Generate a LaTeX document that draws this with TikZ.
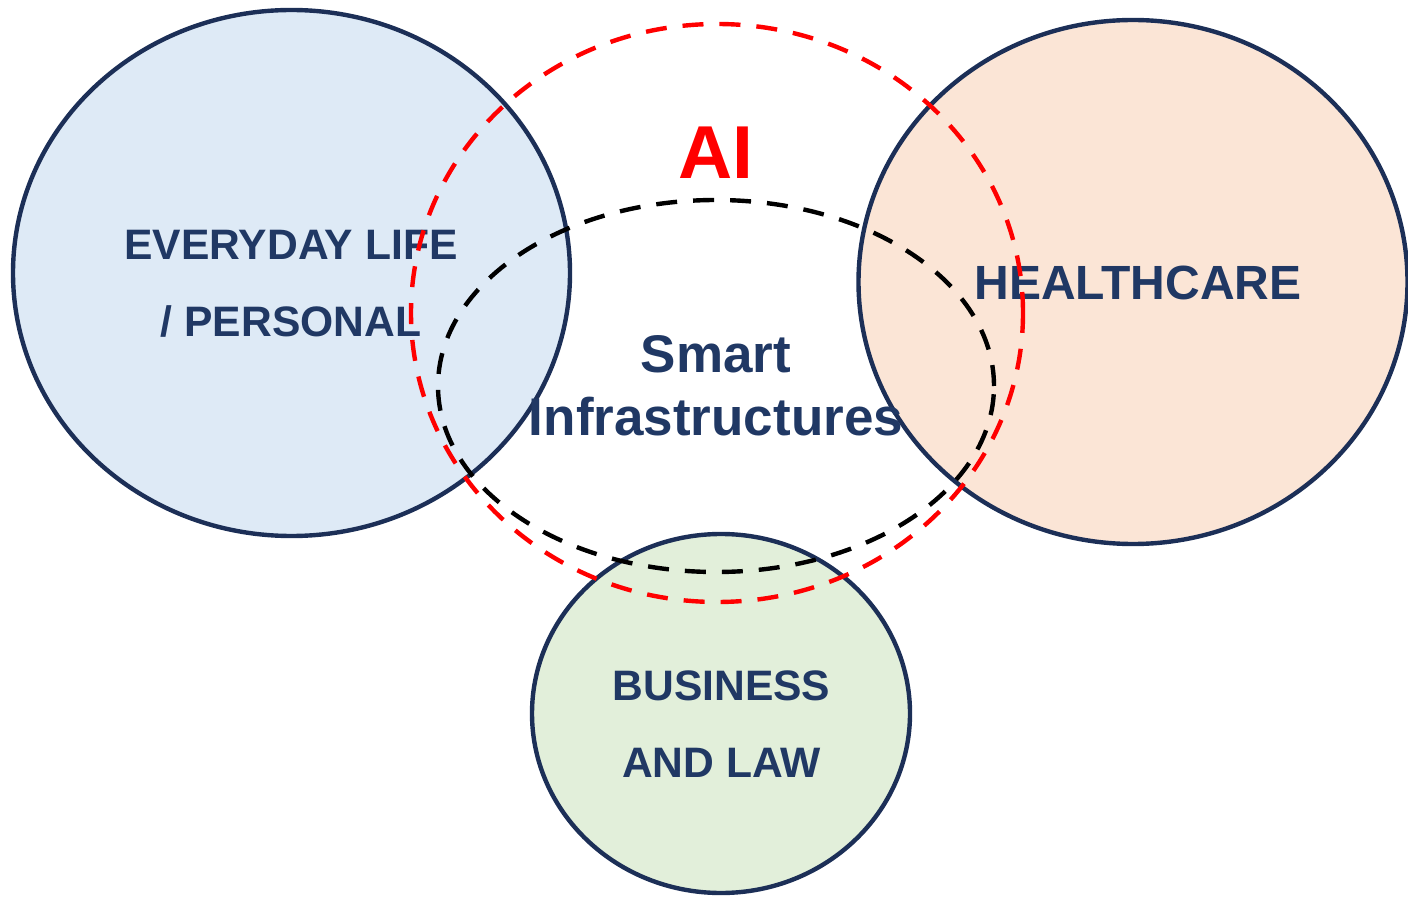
\documentclass[tikz,border=0pt]{standalone}
\usepackage{fontspec}
\setmainfont{Liberation Sans}
\usepackage{tikz}
\usetikzlibrary{shapes.geometric}

\definecolor{navy}{HTML}{1C2F57}
\definecolor{labelblue}{HTML}{203864}
\definecolor{lifefill}{HTML}{DEEAF6}
\definecolor{healthfill}{HTML}{FBE5D6}
\definecolor{lawfill}{HTML}{E2EFDA}

\begin{document}
\begin{tikzpicture}[x=0.5pt, y=-0.5pt,
  area/.style={ellipse, draw=navy, line width=2.2pt, inner sep=0pt},
  ring/.style={ellipse, line width=2.2pt, dash pattern=on 10.5pt off 8pt, inner sep=0pt},
  lbl/.style={text=labelblue, font=\bfseries\fontsize{21.3}{38.5}\selectfont,
    align=center, anchor=north, inner sep=0pt}]
  \useasboundingbox (0,0) rectangle (1408,898);
  % application areas
  \node[area, fill=lifefill, minimum width=278.5pt, minimum height=263pt] (life) at (291.5,273) {};
  \node[area, fill=healthfill, minimum width=274.5pt, minimum height=262pt] (health) at (1133,282) {};
  \node[area, fill=lawfill, minimum width=189pt, minimum height=179.5pt] (law) at (721,713.5) {};
  % labels
  \node[lbl] (lifetext) at (291,230) {EVERYDAY LIFE\\/ PERSONAL};
  \node[lbl, font=\bfseries\fontsize{24}{28}\selectfont] (healthtext) at (1138,266) {HEALTHCARE};
  \node[lbl] (lawtext) at (721.5,670) {BUSINESS\\AND LAW};
  \node[lbl, font=\bfseries\fontsize{26.5}{31.5}\selectfont] (smarttext) at (716,335) {Smart\\Infrastructures};
  \node[lbl, text=red, font=\bfseries\fontsize{37.5}{40}\selectfont] (aitext) at (716,127) {AI};
  % dashed rings
  \node[ring, draw=red, minimum width=306pt, minimum height=289pt] (ai) at (717,313) {};
  \node[ring, draw=black, minimum width=278pt, minimum height=186pt] (smart) at (716,386) {};
\end{tikzpicture}
\end{document}
